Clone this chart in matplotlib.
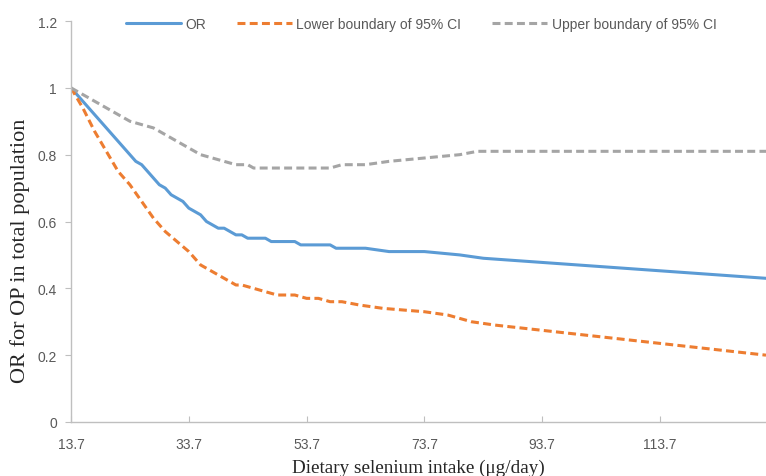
import matplotlib
matplotlib.use("Agg")
import matplotlib.pyplot as plt
from matplotlib.ticker import FuncFormatter

# OR curve
or_x = [13.7, 15.7, 17.7, 19.7, 21.7, 23.7, 24.7, 25.7, 27.7, 28.7, 29.7, 30.7, 31.7, 32.7,
        33.7, 34.7, 35.7, 36.7, 37.7, 38.7, 39.7, 40.7, 41.7, 42.7, 43.7, 46.7, 47.7, 51.7,
        52.7, 57.7, 58.7, 63.7, 67.7, 73.7, 79.7, 83.7, 131.7]
or_y = [1.00, 0.96, 0.92, 0.88, 0.84, 0.80, 0.78, 0.77, 0.73, 0.71, 0.70, 0.68, 0.67, 0.66,
        0.64, 0.63, 0.62, 0.60, 0.59, 0.58, 0.58, 0.57, 0.56, 0.56, 0.55, 0.55, 0.54, 0.54,
        0.53, 0.53, 0.52, 0.52, 0.51, 0.51, 0.50, 0.49, 0.43]

# lower boundary of 95% CI
lo_x = [13.7, 15.7, 17.7, 19.7, 21.7, 23.7, 25.7, 27.7, 29.7, 31.7, 33.7, 35.7, 37.7, 39.7,
        41.7, 42.7, 44.7, 46.7, 48.7, 51.7, 53.7, 55.7, 57.7, 59.7, 62.7, 66.7, 73.7, 77.7,
        81.7, 85.7, 131.7]
lo_y = [1.00, 0.94, 0.87, 0.81, 0.75, 0.71, 0.66, 0.61, 0.57, 0.54, 0.51, 0.47, 0.45, 0.43,
        0.41, 0.41, 0.40, 0.39, 0.38, 0.38, 0.37, 0.37, 0.36, 0.36, 0.35, 0.34, 0.33, 0.32,
        0.30, 0.29, 0.20]

# upper boundary of 95% CI
up_x = [13.7, 15.7, 17.7, 19.7, 21.7, 23.7, 25.7, 27.7, 29.7, 31.7, 33.7, 35.7, 37.7, 39.7,
        41.7, 43.7, 44.7, 57.7, 59.7, 63.7, 67.7, 73.7, 79.7, 82.7, 131.7]
up_y = [1.00, 0.98, 0.96, 0.94, 0.92, 0.90, 0.89, 0.88, 0.86, 0.84, 0.82, 0.80, 0.79, 0.78,
        0.77, 0.77, 0.76, 0.76, 0.77, 0.77, 0.78, 0.79, 0.80, 0.81, 0.81]

xticks = [13.7, 33.7, 53.7, 73.7, 93.7, 113.7]
yticks = [0, 0.2, 0.4, 0.6, 0.8, 1.0, 1.2]

fig = plt.figure(figsize=(7.66, 4.77), dpi=100)
ax = fig.add_axes([71/766, 1-423/477, 1-71/766, (423-22)/477])

ax.plot(or_x, or_y, color="#5B9BD5", lw=2.2, label="OR", solid_capstyle="round")
ax.plot(lo_x, lo_y, color="#ED7D31", lw=2.2, dashes=(2.6, 1.4), label="Lower boundary of 95% CI")
ax.plot(up_x, up_y, color="#A5A5A5", lw=2.2, dashes=(2.6, 1.4), label="Upper boundary of 95% CI")

ax.set_xlim(13.7, 131.7)
ax.set_ylim(0, 1.2)
ax.set_xticks(xticks)
ax.set_yticks(yticks)
ax.xaxis.set_major_formatter(FuncFormatter(lambda v, p: "%g" % round(v, 1)))
ax.yaxis.set_major_formatter(FuncFormatter(lambda v, p: "%g" % round(v, 1)))

for s in ["top", "right"]:
    ax.spines[s].set_visible(False)
for s in ["left", "bottom"]:
    ax.spines[s].set_color("#BFBFBF")
    ax.spines[s].set_linewidth(1.0)

ax.tick_params(axis="x", direction="in", length=4, color="#BFBFBF", labelsize=10,
               labelcolor="#595959", pad=11)
ax.tick_params(axis="y", direction="out", length=4, color="#BFBFBF", labelsize=10,
               labelcolor="#595959", pad=6)
for lab in ax.get_xticklabels() + ax.get_yticklabels():
    lab.set_family("Liberation Sans")

ax.set_xlabel("Dietary selenium intake (μg/day)", family="Liberation Serif", fontsize=13.8,
              color="#262626", labelpad=5)
fig.text(20/766, 1-251/477, "OR for OP in total population", family="Liberation Serif",
         fontsize=16, color="#262626", rotation=90, ha="center", va="center")

leg = fig.legend(loc="center", bbox_to_anchor=(421/766, 1-25/477), ncol=3, frameon=False,
                 handlelength=4, handletextpad=0.3, columnspacing=2.2,
                 prop={"family": "Liberation Sans", "size": 10})
for t in leg.get_texts():
    t.set_color("#595959")

fig.savefig("out.png", dpi=100)
